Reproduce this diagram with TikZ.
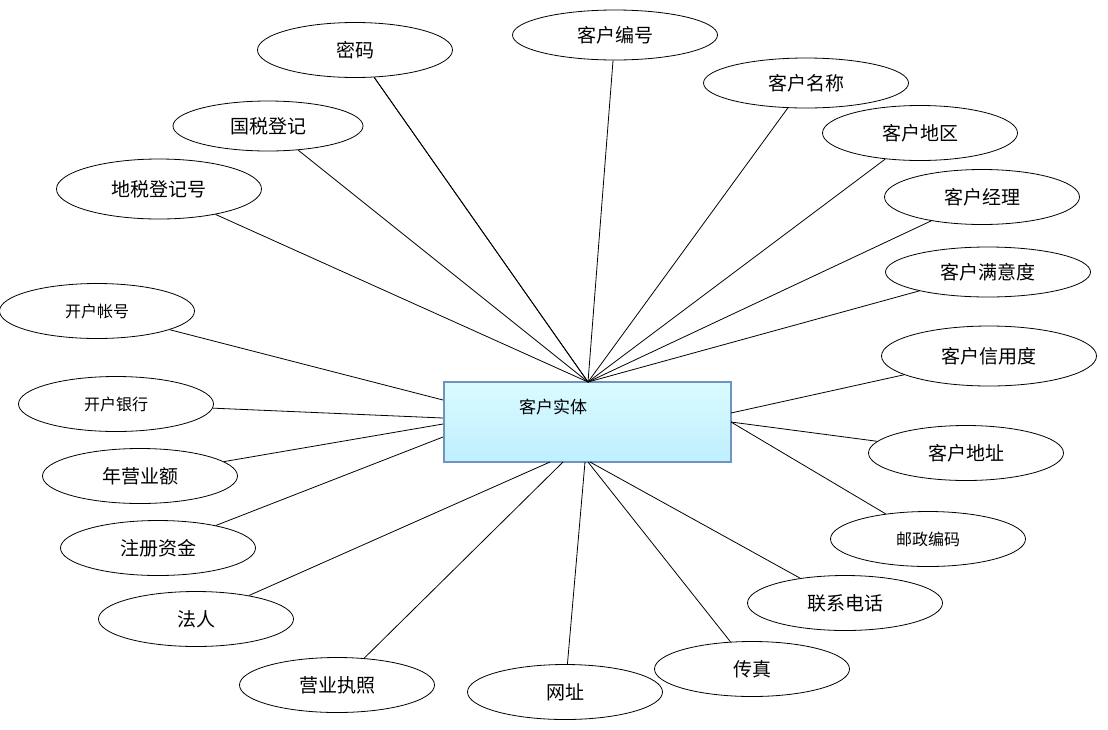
\documentclass[tikz,border=0pt]{standalone}
\usepackage{fontspec}
\newfontfamily\cjk{Noto Sans CJK SC}
\usetikzlibrary{shapes.geometric}
\definecolor{boxedge}{HTML}{7094BE}
\begin{document}
\begin{tikzpicture}[x=1pt,y=-1pt,
  attr/.style={draw,ellipse,line width=0.8pt,minimum width=195pt,minimum height=55pt,inner sep=0pt,font=\cjk\fontsize{19}{20}\selectfont},
  sm/.style={font=\cjk\fontsize{16}{18}\selectfont},
  ln/.style={line width=0.8pt}]
\useasboundingbox (0,0) rectangle (1108,729);
\node[draw=boxedge,line width=1.5pt,top color=blue!10!cyan!15,bottom color=blue!25!cyan!25,minimum width=287pt,minimum height=80pt,inner sep=0pt] (ent) at (587.5,422) {};
\node[font=\cjk\fontsize{17}{18}\selectfont] (entl) at (553,407) {客户实体};
\coordinate (top) at (588,382);
\node[attr] (a1) at (355,50) {密码};
\node[attr,minimum width=205pt,minimum height=50pt] (a2) at (615,35) {客户编号};
\node[attr,minimum width=205pt,minimum height=50pt] (a3) at (806,83) {客户名称};
\node[attr] (a4) at (920,133) {客户地区};
\node[attr] (a5) at (982,197) {客户经理};
\node[attr,minimum width=205pt,minimum height=50pt] (a6) at (988,272) {客户满意度};
\node[attr,minimum width=215pt,minimum height=60pt] (a7) at (989,356) {客户信用度};
\node[attr] (a8) at (966,453) {客户地址};
\node[attr,sm] (a9) at (928,539) {邮政编码};
\node[attr] (a10) at (845,603) {联系电话};
\node[attr] (a11) at (752,669) {传真};
\node[attr] (a12) at (565,692) {网址};
\node[attr] (a13) at (337,685) {营业执照};
\node[attr] (a14) at (196,619) {法人};
\node[attr] (a15) at (158,548) {注册资金};
\node[attr] (a16) at (140,476) {年营业额};
\node[attr,sm] (a17) at (116,404) {开户银行};
\node[attr,sm] (a18) at (97,311) {开户帐号};
\node[attr,minimum width=205pt,minimum height=60pt] (a19) at (159,189) {地税登记号};
\node[attr,minimum width=190pt,minimum height=50pt] (a20) at (268,126) {国税登记};
\foreach \i in {1,2,3,4,5,6,19,20} \draw[ln] (a\i) -- (top);
\draw[ln] (a1) -- (top);
\coordinate (l1) at (443,400); \coordinate (l2) at (443,418);
\coordinate (l3) at (443,424); \coordinate (l4) at (443,437);
\coordinate (b1) at (550,462); \coordinate (b2) at (563,462);
\coordinate (b3) at (585,462); \coordinate (b4) at (588,462);
\coordinate (b5) at (590,462);
\coordinate (r1) at (731,422); \coordinate (r2) at (731,413);
\draw[ln] (a18) -- (l1); \draw[ln] (a17) -- (l2);
\draw[ln] (a16) -- (l3); \draw[ln] (a15) -- (l4);
\draw[ln] (a14) -- (b1); \draw[ln] (a13) -- (b2);
\draw[ln] (a12) -- (b3); \draw[ln] (a11) -- (b4);
\draw[ln] (a10) -- (b5); \draw[ln] (a9) -- (r1);
\draw[ln] (a8) -- (r1); \draw[ln] (a7) -- (r2);
\end{tikzpicture}
\end{document}
